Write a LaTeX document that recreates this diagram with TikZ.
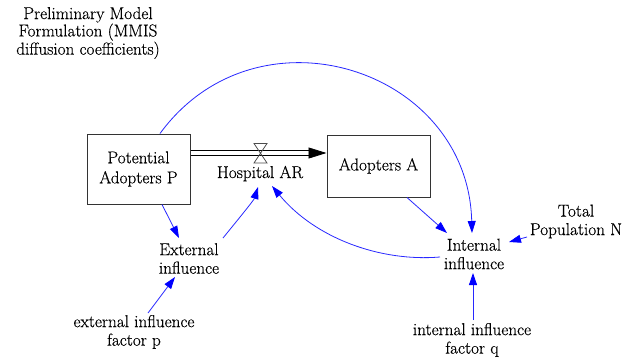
\documentclass[tikz,border=0pt]{standalone}
\usepackage{fontspec}
\setmainfont{Latin Modern Roman}[FakeBold=0.35]
\usetikzlibrary{arrows.meta,calc}

\tikzset{
  txt/.style={align=center, inner sep=2pt, font=\rmfamily\fontsize{17.2}{18.5}\selectfont},
  stock/.style={draw=black!80, line width=1pt, fill=white, align=center,
    inner sep=2pt, font=\rmfamily\fontsize{17.2}{20}\selectfont},
  link/.style={draw={rgb,255:red,40;green,40;blue,255}, line width=0.8pt,
    -{Triangle[length=12pt,width=8pt]}, arrows={[fill=blue, color=blue]}},
  flowpipe/.style={draw=black, line width=0.8pt, double, double distance=3.6pt,
    -{Triangle[length=18pt,width=11pt]}},
  valveshape/.style={draw=black!70, line width=0.8pt},
}

\begin{document}
\begin{tikzpicture}[x=1pt, y=-1pt]
  \fill[white] (0,0) rectangle (624,360);
  \useasboundingbox (0,0) rectangle (624,360);

  % heading
  \node[txt, font=\rmfamily\fontsize{17.2}{16}\selectfont] (title) at (88,33)
    {Preliminary Model\\Formulation (MMIS\\diffusion coefficients)};

  % stocks
  \node[stock, minimum width=103pt, minimum height=70pt] (P) at (138.5,169)
    {Potential\\Adopters P};
  \node[stock, minimum width=103pt, minimum height=62pt] (A) at (378.5,166)
    {Adopters A};

  % flow with its valve
  \coordinate (valve) at (260.5,153);
  \draw[flowpipe] (P.east |- valve) -- (A.west |- valve);
  \draw[valveshape] ($(valve)+(-6.5,-9.5)$) -- ++(13,0) -- ++(-13,19.5)
    -- ++(13,0) -- cycle;
  \node[txt, anchor=base] (AR) at (260,178) {Hospital AR};

  % auxiliaries and constants
  \node[txt] (ext) at (189,258.5) {External\\influence};
  \node[txt] (int) at (474,254) {Internal\\influence};
  \node[txt] (N) at (576,221.5) {Total\\Population N};
  \node[txt] (p) at (134,332) {external influence\\factor p};
  \node[txt] (q) at (472,340) {internal influence\\factor q};

  % causal links
  \draw[link] ($(P.north)+(21.5,0)$) .. controls (257,1) and (468,68)
    .. ($(int)+(-2,-21)$);
  \draw[link] ($(P.south)+(23.5,0)$) -- ($(ext)+(-10,-20.5)$);
  \draw[link] ($(ext)+(34,-20.5)$) .. controls (236,222) and (254,200)
    .. ($(AR.base)+(-2,9)$);
  \draw[link] ($(int)+(-34,3)$) .. controls (380,262) and (315,238)
    .. ($(AR.base)+(12,8)$);
  \draw[link] ($(A.south)+(28.5,0)$) -- ($(int)+(-27,-21)$);
  \draw[link] ($(N)+(-49,15.5)$) -- ($(int)+(35,-12)$);
  \draw[link] ($(p)+(14,-19)$) -- ($(ext)+(-14,18.5)$);
  \draw[link] ($(q)+(1,-20)$) -- ($(int)+(-1,19)$);
\end{tikzpicture}
\end{document}
